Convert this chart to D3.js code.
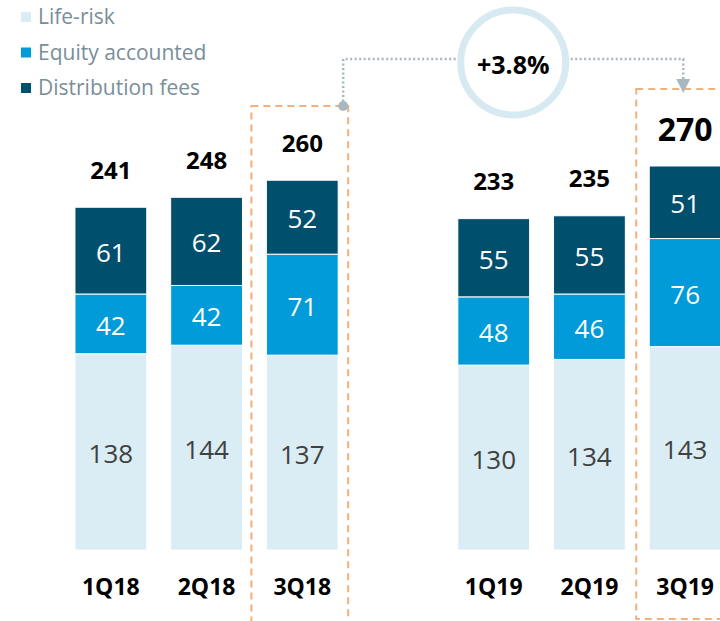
<!DOCTYPE html>
<html>
<head>
<meta charset="utf-8">
<script src="https://cdn.jsdelivr.net/npm/d3@7"></script>
<style>
  body { margin: 0; background: #fff; }
  svg { display: block; font-family: "Open Sans", sans-serif; }
</style>
</head>
<body>
<div id="chart"></div>
<script>
var width = 720
var height = 621

var quarters = ["1Q18", "2Q18", "3Q18", "", "1Q19", "2Q19", "3Q19"]
var lifeRisk = [138, 144, 137, null, 130, 134, 143]
var equity = [42, 42, 71, null, 48, 46, 76]
var distribution = [61, 62, 52, null, 55, 55, 51]
var seriesNames = ["Life-risk", "Equity accounted", "Distribution fees"]
var seriesColors = ["#daedf4", "#009bd8", "#004f6d"]
var labelColors = ["#404040", "#ffffff", "#ffffff"]
var growthLabel = "+3.8%"
var highlighted = ["3Q18", "3Q19"]

var data = []
for (var i = 0; i < quarters.length; i++) {
  if (lifeRisk[i] == null) continue
  data.push({
    q: quarters[i],
    vals: [lifeRisk[i], equity[i], distribution[i]]
  })
}

var x = d3.scaleBand()
  .domain(quarters)
  .range([63, 733])
  .paddingInner(0.25)
  .paddingOuter(0.125)

var y = d3.scaleLinear()
  .domain([0, 270])
  .range([550, 166])

var svg = d3.select("#chart").append("svg")
  .attr("width", width)
  .attr("height", height)

// legend
var legend = svg.append("g")
legend.selectAll("rect")
  .data(seriesNames)
  .enter()
  .append("rect")
  .attr("x", 21)
  .attr("y", function (d, i) { return 12 + i * 35.5 })
  .attr("width", 10)
  .attr("height", 10)
  .attr("fill", function (d, i) { return seriesColors[i] })
legend.selectAll("text")
  .data(seriesNames)
  .enter()
  .append("text")
  .attr("x", 38)
  .attr("y", function (d, i) { return 17 + i * 35.5 })
  .attr("dy", "0.35em")
  .attr("fill", "#7a8e9a")
  .attr("style", "font-size:21px;")
  .text(function (d) { return d })

// highlight boxes
svg.append("rect")
  .attr("x", x("3Q18") - 15)
  .attr("y", 106)
  .attr("width", x.bandwidth() + 25)
  .attr("height", 600)
  .attr("fill", "none")
  .attr("stroke", "#f2b07a")
  .attr("stroke-width", 2)
  .attr("stroke-dasharray", "7,5")
svg.append("rect")
  .attr("x", x("3Q19") - 13)
  .attr("y", 89)
  .attr("width", x.bandwidth() + 31)
  .attr("height", 530)
  .attr("fill", "none")
  .attr("stroke", "#f2b07a")
  .attr("stroke-width", 2)
  .attr("stroke-dasharray", "7,5")

// stacked bars
var bars = svg.append("g")
data.forEach(function (d) {
  var base = 0
  d.vals.forEach(function (v, k) {
    bars.append("rect")
      .attr("x", x(d.q))
      .attr("y", y(base + v))
      .attr("width", x.bandwidth())
      .attr("height", y(base) - y(base + v))
      .attr("fill", seriesColors[k])
      .attr("stroke", "#fff")
      .attr("stroke-width", 1)
    bars.append("text")
      .attr("x", x(d.q) + x.bandwidth() / 2)
      .attr("y", (y(base) + y(base + v)) / 2 + 2)
      .attr("dy", "0.35em")
      .attr("text-anchor", "middle")
      .attr("fill", labelColors[k])
      .attr("style", "font-size:26px;")
      .text(v)
    base += v
  })
  var total = d3.sum(d.vals)
  var big = highlighted.indexOf(d.q) === 1
  bars.append("text")
    .attr("x", x(d.q) + x.bandwidth() / 2)
    .attr("y", y(total) - (big ? 36 : 37))
    .attr("dy", "0.35em")
    .attr("text-anchor", "middle")
    .attr("fill", "#000")
    .attr("style", "font-size:" + (big ? 32 : 24) + "px;font-weight:700;")
    .text(total)
})

// category labels
svg.append("g").selectAll("text")
  .data(data)
  .enter()
  .append("text")
  .attr("x", function (d) { return x(d.q) + x.bandwidth() / 2 })
  .attr("y", 587)
  .attr("dy", "0.35em")
  .attr("text-anchor", "middle")
  .attr("fill", "#000")
  .attr("style", "font-size:23px;font-weight:700;")
  .text(function (d) { return d.q })

// growth connector
var x1 = x("3Q18") + x.bandwidth() + 5
var x2 = x("3Q19") + 34
var cx = (x1 + x2) / 2
var lineY = 59
svg.append("path")
  .attr("d", "M" + x1 + "," + 106 + "V" + lineY + "H" + x2 + "V" + 80)
  .attr("fill", "none")
  .attr("stroke", "#a9b8c0")
  .attr("stroke-width", 2.5)
  .attr("stroke-dasharray", "2,2.5")
svg.append("circle")
  .attr("cx", x1)
  .attr("cy", 106)
  .attr("r", 5)
  .attr("fill", "#a9b8c0")
svg.append("path")
  .attr("d", "M" + (x2 - 7) + ",79L" + (x2 + 7) + ",79L" + x2 + ",93Z")
  .attr("fill", "#a9b8c0")
svg.append("circle")
  .attr("cx", cx)
  .attr("cy", 62.5)
  .attr("r", 52.5)
  .attr("fill", "#fff")
  .attr("stroke", "#d7eaf2")
  .attr("stroke-width", 7)
svg.append("text")
  .attr("x", cx)
  .attr("y", 65)
  .attr("dy", "0.35em")
  .attr("text-anchor", "middle")
  .attr("fill", "#000")
  .attr("style", "font-size:25px;font-weight:700;")
  .text(growthLabel)
</script>
</body>
</html>
